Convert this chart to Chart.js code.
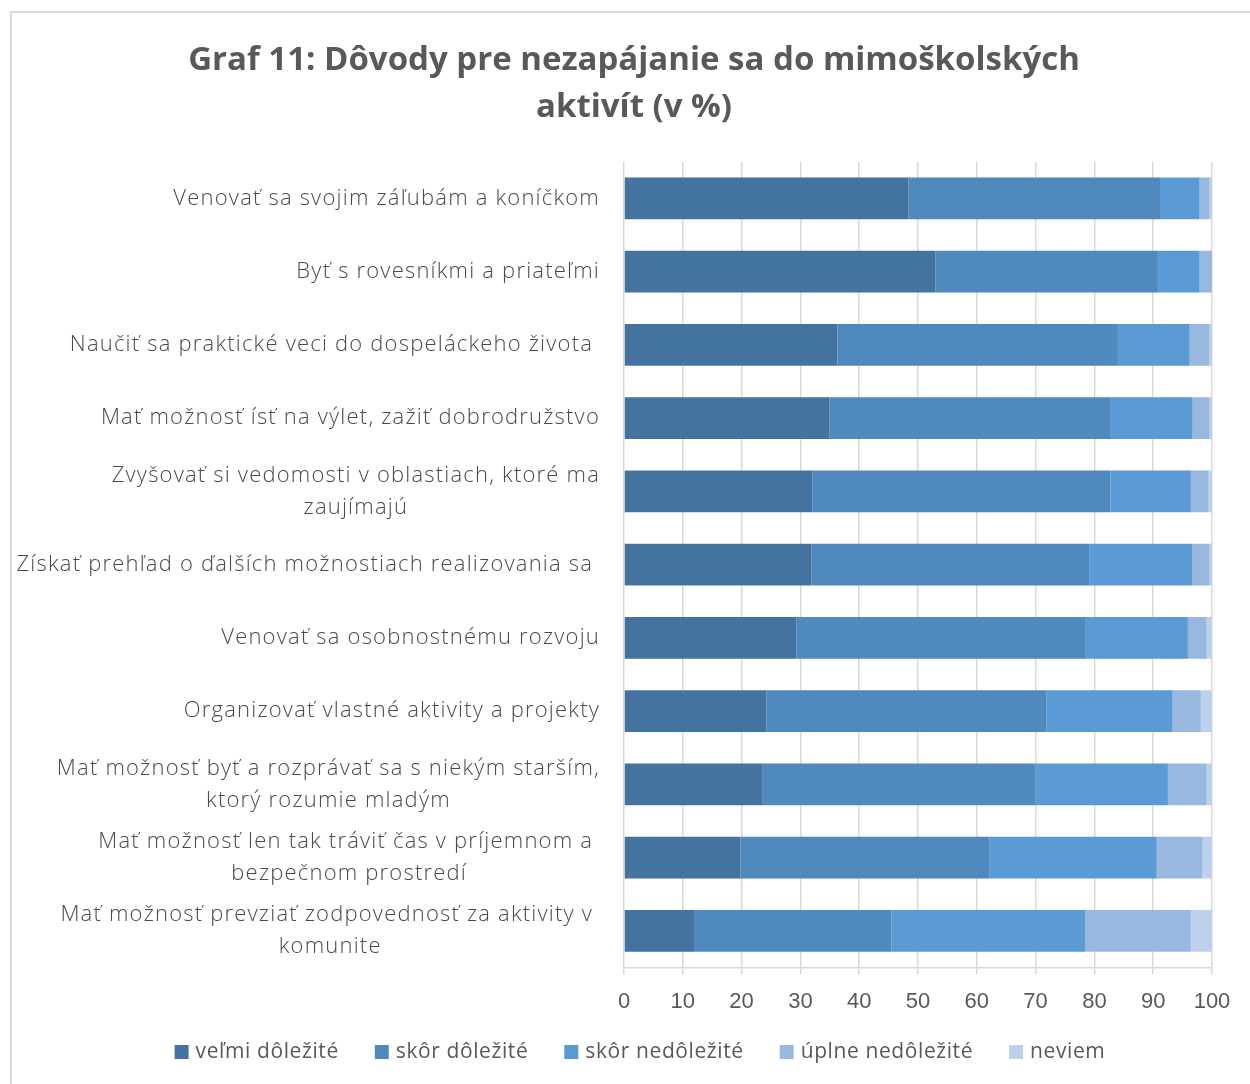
<!DOCTYPE html>
<html>
<head>
<meta charset="utf-8">
<script src="https://cdn.jsdelivr.net/npm/chart.js@4"></script>
<style>
  body { margin: 0; overflow: hidden; background: #fff; }
  #frame { position: absolute; left: 10px; top: 11px; width: 1400px; height: 1200px; border: 2px solid #d9d9d9; }
  #chart { position: absolute; left: 0; top: 0; }
</style>
</head>
<body>
<div id="frame"></div>
<canvas id="chart" width="1250" height="1084"></canvas>
<script>
const categories = [
  ['Venovať sa svojim záľubám a koníčkom'],
  ['Byť s rovesníkmi a priateľmi'],
  ['Naučiť sa praktické veci do dospeláckeho života '],
  ['Mať možnosť ísť na výlet, zažiť dobrodružstvo'],
  ['Zvyšovať si vedomosti v oblastiach, ktoré ma', 'zaujímajú'],
  ['Získať prehľad o ďalších možnostiach realizovania sa '],
  ['Venovať sa osobnostnému rozvoju'],
  ['Organizovať vlastné aktivity a projekty'],
  ['Mať možnosť byť a rozprávať sa s niekým starším,', 'ktorý rozumie mladým'],
  ['Mať možnosť len tak tráviť čas v príjemnom a ', 'bezpečnom prostredí'],
  ['Mať možnosť prevziať zodpovednosť za aktivity v ', 'komunite']
];
const seriesNames = ['veľmi dôležité', 'skôr dôležité', 'skôr nedôležité', 'úplne nedôležité', 'neviem'];
const velmiDolezite   = [48.4, 53.0, 36.3, 34.9, 32.0, 31.9, 29.3, 24.2, 23.6, 19.8, 11.9];
const skorDolezite    = [42.9, 37.8, 47.7, 47.9, 50.7, 47.2, 49.1, 47.6, 46.4, 42.3, 33.6];
const skorNedolezite  = [6.6, 7.1, 12.2, 13.9, 13.7, 17.5, 17.5, 21.5, 22.5, 28.5, 32.9];
const uplneNedolezite = [1.7, 2.1, 3.3, 2.9, 3.0, 3.0, 3.2, 4.8, 6.6, 7.8, 18.0];
const neviem          = [0.4, 0.0, 0.5, 0.4, 0.6, 0.4, 0.9, 1.9, 0.9, 1.6, 3.6];
const xTicks = [0, 10, 20, 30, 40, 50, 60, 70, 80, 90, 100];

const colors = ['#44739f', '#4f89bd', '#5a9ad5', '#98b8e0', '#bdd0ec'];
const allValues = [velmiDolezite, skorDolezite, skorNedolezite, uplneNedolezite, neviem];

// category labels drawn by hand so wrapped lines are centred on each other
const categoryLabels = {
  id: 'categoryLabels',
  afterDraw(chart) {
    const ctx = chart.ctx;
    const y = chart.scales.y;
    const right = chart.chartArea.left - 24;
    const lineH = 32;
    ctx.save();
    ctx.font = '300 22px "Open Sans"';
    ctx.letterSpacing = '1.2px';
    ctx.fillStyle = '#4a4a4a';
    ctx.textAlign = 'center';
    ctx.textBaseline = 'middle';
    categories.forEach((lines, i) => {
      const widest = Math.max(...lines.map(l => ctx.measureText(l).width));
      const cx = right - widest / 2;
      const cy = y.getPixelForValue(i);
      lines.forEach((l, j) => {
        ctx.fillText(l, cx, cy + (j - (lines.length - 1) / 2) * lineH);
      });
    });
    ctx.restore();
  }
};

// legend row under the axis, spaced like the original
const bottomLegend = {
  id: 'bottomLegend',
  afterDraw(chart) {
    const ctx = chart.ctx;
    const box = 14, gap = 7, spacing = 36, cy = 1052, center = 640;
    ctx.save();
    ctx.font = '21px "Open Sans"';
    ctx.letterSpacing = '0.6px';
    ctx.textBaseline = 'middle';
    ctx.textAlign = 'left';
    const items = chart.data.datasets.map(ds => ({ text: ds.label, color: ds.backgroundColor, w: ctx.measureText(ds.label).width }));
    const total = items.reduce((s, it) => s + box + gap + it.w, 0) + spacing * (items.length - 1);
    let x = center - total / 2;
    items.forEach(it => {
      ctx.fillStyle = it.color;
      ctx.fillRect(x, cy - box / 2, box, box);
      ctx.fillStyle = '#595959';
      ctx.fillText(it.text, x + box + gap, cy);
      x += box + gap + it.w + spacing;
    });
    ctx.restore();
  }
};

new Chart(document.getElementById('chart'), {
  type: 'bar',
  data: {
    labels: categories.map(c => c.join(' ')),
    datasets: seriesNames.map((name, i) => ({
      label: name,
      data: allValues[i],
      backgroundColor: colors[i],
      borderWidth: 0,
      categoryPercentage: 0.57,
      barPercentage: 1
    }))
  },
  options: {
    indexAxis: 'y',
    responsive: false,
    animation: false,
    layout: { padding: { left: 56, right: 38, top: 0, bottom: 55 } },
    scales: {
      x: {
        stacked: true,
        min: 0,
        max: 100,
        afterBuildTicks: axis => { axis.ticks = xTicks.map(v => ({ value: v })); },
        grid: { color: '#d9d9d9', lineWidth: 1.5, tickLength: 7 },
        border: { color: '#d9d9d9', width: 1.5 },
        ticks: { color: '#595959', font: { family: 'Liberation Sans', size: 22 }, padding: 14 }
      },
      y: {
        stacked: true,
        grid: { display: false },
        border: { display: false },
        ticks: { display: false },
        afterFit: scale => { scale.width = 568; }
      }
    },
    plugins: {
      title: {
        display: true,
        text: ['Graf 11: Dôvody pre nezapájanie sa do mimoškolských', 'aktivít (v %)'],
        color: '#595959',
        font: { family: 'Open Sans', size: 33, weight: 'bold', lineHeight: 1.42 },
        padding: { top: 37, bottom: 31 }
      },
      legend: { display: false },
      tooltip: { enabled: false }
    }
  },
  plugins: [categoryLabels, bottomLegend]
});
</script>
</body>
</html>
